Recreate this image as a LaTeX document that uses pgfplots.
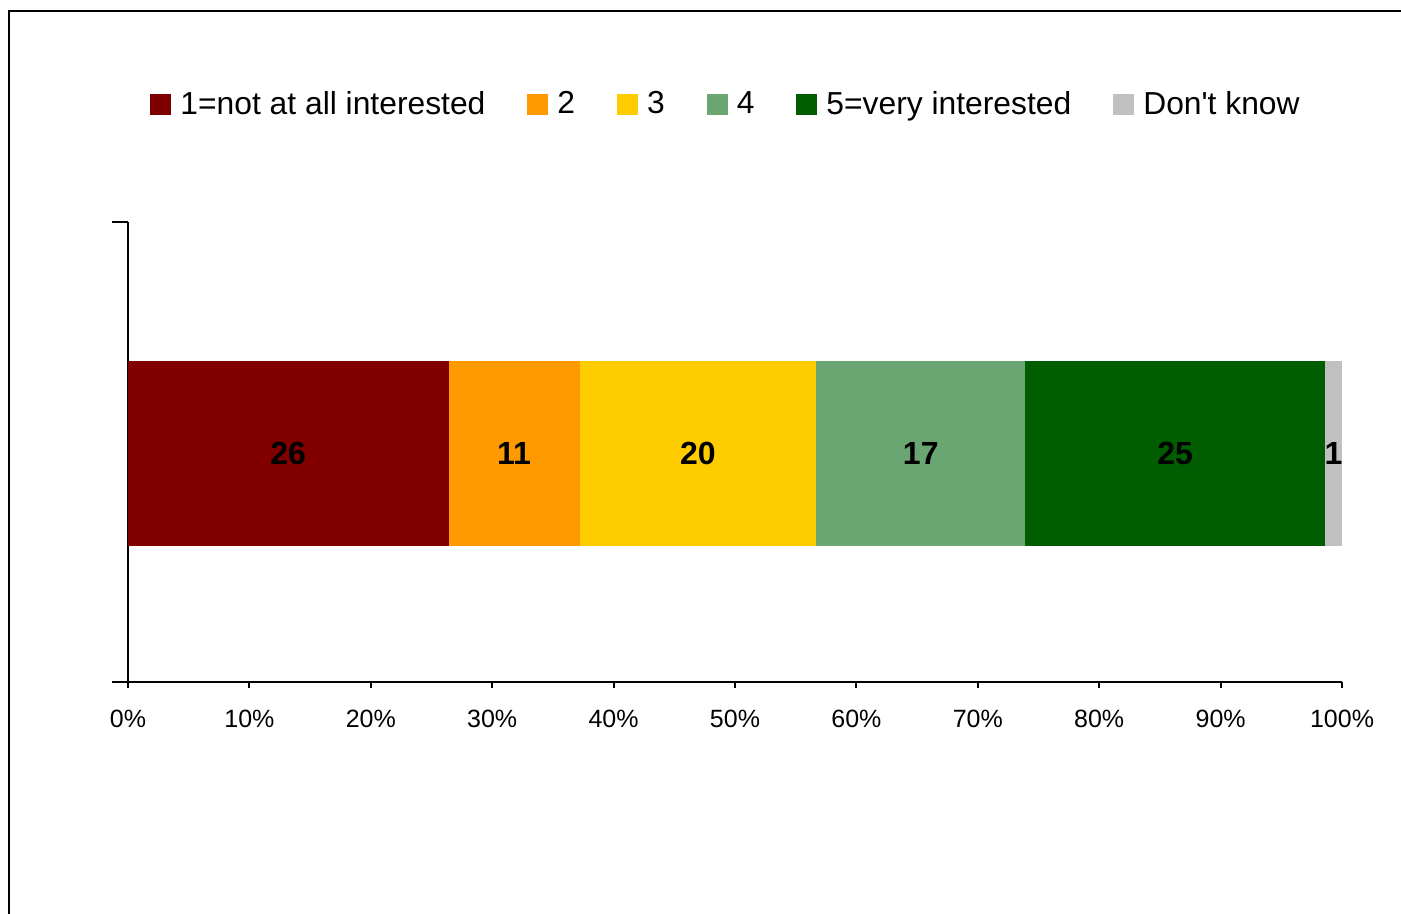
\documentclass[border=0pt]{standalone}
\usepackage{pgfplots}
\pgfplotsset{compat=1.18}
\usepackage{fontspec}
\setmainfont{Liberation Sans}[Ligatures=TeXOff]
\definecolor{c1}{HTML}{800000}
\definecolor{c2}{HTML}{FF9900}
\definecolor{c3}{HTML}{FFCC00}
\definecolor{c4}{HTML}{6AA672}
\definecolor{c5}{HTML}{005E00}
\definecolor{c6}{HTML}{C0C0C0}
\pgfplotsset{
  common/.style={
    at={(64pt,116pt)}, anchor=south west,
    scale only axis, width=607pt, height=230pt,
    xmin=0, xmax=100, ymin=-0.5, ymax=0.5,
  }
}
\begin{document}
\begin{tikzpicture}
\useasboundingbox (0pt,0pt) rectangle (700.5pt,457pt);
\draw[line width=1pt] (4.5pt,451.5pt) rectangle (720pt,-20pt);
\begin{axis}[
  common,
  xbar stacked, bar width=92.5pt,
  axis x line*=bottom, axis y line*=left,
  axis line style={line width=1pt, -},
  tick align=outside,
  xtick={0,10,...,100},
  xticklabels={0\%,10\%,20\%,30\%,40\%,50\%,60\%,70\%,80\%,90\%,100\%},
  ytick={-0.5,0.5}, yticklabels={},
  x tick style={line width=1pt, black, /pgfplots/major tick length=3pt},
  y tick style={line width=1pt, black, /pgfplots/major tick length=8pt},
  xticklabel style={font=\fontsize{12.5}{12.5}\selectfont, yshift=-6pt},
  legend columns=-1,
  legend style={at={(0.4918,1.2565)}, anchor=center, draw=none, fill=none,
    font=\fontsize{15.9}{15.9}\selectfont,
    nodes={inner sep=0pt},
    /tikz/every odd column/.append style={column sep=4.5pt},
    /tikz/every even column/.append style={column sep=21pt}},
  legend image code/.code={\path[#1,draw=none] (0pt,-5.25pt) rectangle (10.5pt,5.25pt);},
  clip=false,
]
\addplot[fill=c1, draw=none] coordinates {(26.4,-0.0043)};
\addplot[fill=c2, draw=none] coordinates {(10.8,-0.0043)};
\addplot[fill=c3, draw=none] coordinates {(19.5,-0.0043)};
\addplot[fill=c4, draw=none] coordinates {(17.2,-0.0043)};
\addplot[fill=c5, draw=none] coordinates {(24.7,-0.0043)};
\addplot[fill=c6, draw=none] coordinates {(1.4,-0.0043)};
\legend{1=not at all interested,2,3,4,5=very interested,Don't know}
\end{axis}
\begin{axis}[common, hide axis, clip=false]
\addplot[draw=none, mark=none, point meta=explicit symbolic,
  nodes near coords,
  every node near coord/.append style={font=\bfseries\fontsize{16}{16}\selectfont, black, anchor=center}]
  coordinates {(13.2,-0.0043) [26] (31.8,-0.0043) [11] (46.95,-0.0043) [20] (65.3,-0.0043) [17] (86.25,-0.0043) [25] (99.3,-0.0043) [1]};
\end{axis}
\end{tikzpicture}
\end{document}
